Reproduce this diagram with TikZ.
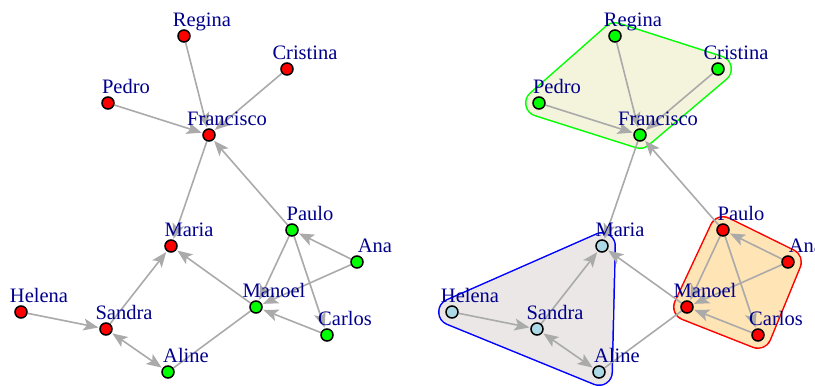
\documentclass[tikz,border=0pt]{standalone}
\usepackage{fontspec}
\setmainfont{Liberation Serif}
\usetikzlibrary{arrows.meta,backgrounds}
\definecolor{namecol}{RGB}{0,0,139}
\definecolor{edgecol}{RGB}{170,170,170}
\definecolor{lightblu}{RGB}{173,216,230}
\definecolor{hullbeige}{RGB}{244,244,220}
\definecolor{hullgray}{RGB}{235,231,231}
\definecolor{hullorange}{RGB}{255,228,181}
\pgfdeclarelayer{edges}
\pgfsetlayers{background,edges,main}

\begin{document}
\begin{tikzpicture}[x=1pt,y=-1pt,
  >={Stealth[length=15pt,width=12pt,inset=3.5pt]},
  vtx/.style={circle,draw=black,line width=1.5pt,fill=#1,minimum size=12pt,inner sep=0pt},
  who/.style={text=namecol,font=\fontsize{20.5pt}{24pt}\selectfont,
    text height=14pt,text depth=4pt,inner sep=0pt,xshift=18pt,yshift=15pt},
  link/.style={draw=edgecol,line width=1.6pt,->,shorten >=1pt},
  both/.style={draw=edgecol,line width=1.6pt,<->,shorten >=1pt,shorten <=1pt},
  tie/.style={draw=edgecol,line width=1.6pt},
  hullline/.style={draw=#1,line width=28pt,line join=round},
  hullfill/.style={draw=#1,fill=#1,line width=25pt,line join=round}]
\useasboundingbox (0,0) rectangle (815,386);

% left graph
\node[vtx=red,label={[who]center:Regina}] (lRegina) at (184,36) {};
\node[vtx=red,label={[who]center:Cristina}] (lCristina) at (287,69) {};
\node[vtx=red,label={[who]center:Pedro}] (lPedro) at (108,103) {};
\node[vtx=red,label={[who]center:Francisco}] (lFrancisco) at (209,135) {};
\node[vtx=red,label={[who]center:Maria}] (lMaria) at (171,246) {};
\node[vtx=green,label={[who]center:Paulo}] (lPaulo) at (292,230) {};
\node[vtx=green,label={[who]center:Ana}] (lAna) at (357,262) {};
\node[vtx=green,label={[who]center:Manoel}] (lManoel) at (256,307) {};
\node[vtx=green,label={[who]center:Carlos}] (lCarlos) at (327,335) {};
\node[vtx=red,label={[who]center:Helena}] (lHelena) at (21,312) {};
\node[vtx=red,label={[who]center:Sandra}] (lSandra) at (106,329) {};
\node[vtx=green,label={[who]center:Aline}] (lAline) at (168,372) {};

% right graph
\node[vtx=green,label={[who]center:Regina}] (rRegina) at (615,36) {};
\node[vtx=green,label={[who]center:Cristina}] (rCristina) at (718,69) {};
\node[vtx=green,label={[who]center:Pedro}] (rPedro) at (539,103) {};
\node[vtx=green,label={[who]center:Francisco}] (rFrancisco) at (640,135) {};
\node[vtx=lightblu,label={[who]center:Maria}] (rMaria) at (602,246) {};
\node[vtx=red,label={[who]center:Paulo}] (rPaulo) at (723,230) {};
\node[vtx=red,label={[who]center:Ana}] (rAna) at (788,262) {};
\node[vtx=red,label={[who]center:Manoel}] (rManoel) at (687,307) {};
\node[vtx=red,label={[who]center:Carlos}] (rCarlos) at (758,335) {};
\node[vtx=lightblu,label={[who]center:Helena}] (rHelena) at (452,312) {};
\node[vtx=lightblu,label={[who]center:Sandra}] (rSandra) at (537,329) {};
\node[vtx=lightblu,label={[who]center:Aline}] (rAline) at (599,372) {};

\begin{pgfonlayer}{background}
\draw[hullline=green] (rPedro.center) -- (rRegina.center) -- (rCristina.center) -- (rFrancisco.center) -- cycle;
\draw[hullfill=hullbeige] (rPedro.center) -- (rRegina.center) -- (rCristina.center) -- (rFrancisco.center) -- cycle;
\draw[hullline=blue] (rHelena.center) -- (rMaria.center) -- (rAline.center) -- cycle;
\draw[hullfill=hullgray] (rHelena.center) -- (rMaria.center) -- (rAline.center) -- cycle;
\draw[hullline=red] (rPaulo.center) -- (rAna.center) -- (rCarlos.center) -- (rManoel.center) -- cycle;
\draw[hullfill=hullorange] (rPaulo.center) -- (rAna.center) -- (rCarlos.center) -- (rManoel.center) -- cycle;
\end{pgfonlayer}

\begin{pgfonlayer}{edges}
\foreach \s in {l,r} {
  \draw[link] (\s Pedro) -- (\s Francisco);
  \draw[link] (\s Regina) -- (\s Francisco);
  \draw[link] (\s Cristina) -- (\s Francisco);
  \draw[link] (\s Paulo) -- (\s Francisco);
  \draw[link] (\s Francisco) -- (\s Maria);
  \draw[link] (\s Sandra) -- (\s Maria);
  \draw[link] (\s Manoel) -- (\s Maria);
  \draw[link] (\s Helena) -- (\s Sandra);
  \draw[both] (\s Sandra) -- (\s Aline);
  \draw[tie] (\s Aline) -- (\s Manoel);
  \draw[link] (\s Paulo) -- (\s Manoel);
  \draw[link] (\s Ana) -- (\s Paulo);
  \draw[link] (\s Ana) -- (\s Manoel);
  \draw[link] (\s Paulo) -- (\s Carlos);
  \draw[link] (\s Carlos) -- (\s Manoel);
}
\end{pgfonlayer}
\end{tikzpicture}
\end{document}
